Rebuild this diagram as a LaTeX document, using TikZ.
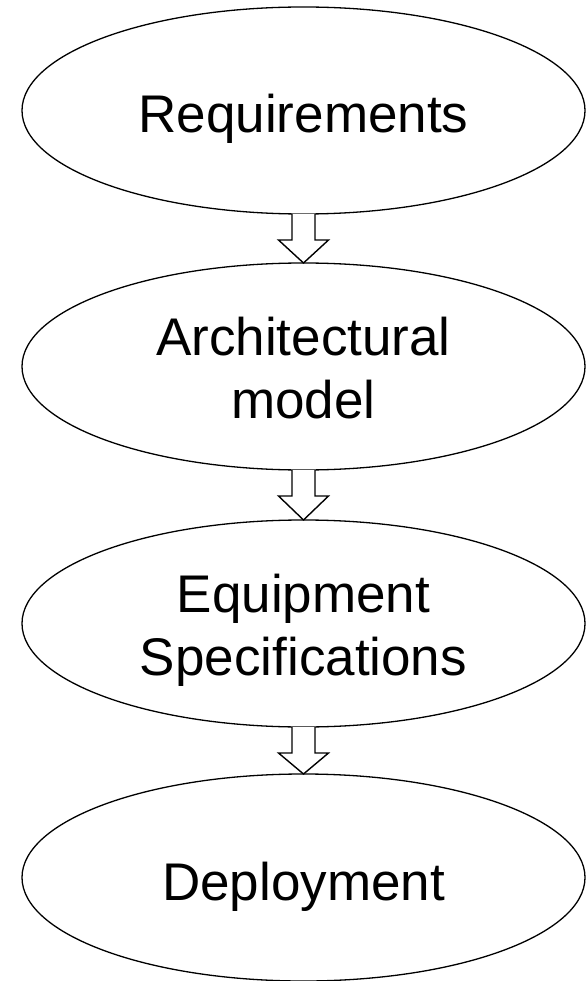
\documentclass[tikz,border=0pt]{standalone}
\usepackage{fontspec}
\setmainfont{Liberation Sans}
\usetikzlibrary{shapes.geometric,calc}

\tikzset{
  stage/.style={ellipse, draw=black, line width=1.3pt, fill=white,
    minimum width=563pt, minimum height=207pt, inner sep=0pt, outer sep=0pt},
  caption/.style={anchor=base, font=\fontsize{53}{63}\selectfont, inner sep=0pt},
  blockarrow/.style={draw=black, fill=white, line width=1.4pt, line join=miter}
}

% hollow block arrow from the bottom of one stage to the top of the next
\newcommand{\flowarrow}[2]{%
  \draw[blockarrow]
    ($(#1.south)+(-11.5,0)$) -- ($(#1.south)+(-11.5,26)$) --
    ($(#1.south)+(-25,26)$) -- (#2.north) --
    ($(#1.south)+(25,26)$) -- ($(#1.south)+(11.5,26)$) --
    ($(#1.south)+(11.5,0)$);
}

\begin{document}
\begin{tikzpicture}[x=1pt,y=-1pt]
  \useasboundingbox (0,0) rectangle (588,981);

  \node[stage] (req)  at (303.5,110.5) {};
  \node[stage] (arch) at (303.5,366.5) {};
  \node[stage] (equip) at (303.5,623.5) {};
  \node[stage] (dep)  at (303.5,877.5) {};

  \node[caption] (reqt)   at (303.5,133)   {Requirements};
  \node[caption] (archt1) at (303.5,355)   {Architectural};
  \node[caption] (archt2) at (303.5,418)   {model};
  \node[caption] (eqt1)   at (303.5,612)   {Equipment};
  \node[caption] (eqt2)   at (303.5,675)   {Specifications};
  \node[caption] (dept)   at (303.5,900)   {Deployment};

  \flowarrow{req}{arch}
  \flowarrow{arch}{equip}
  \flowarrow{equip}{dep}
\end{tikzpicture}
\end{document}
